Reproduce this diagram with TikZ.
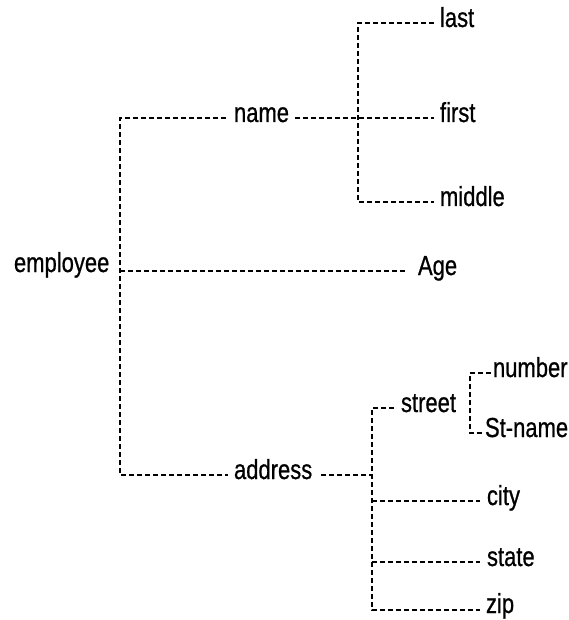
\documentclass[tikz,border=0pt]{standalone}
\usepackage{fontspec}
\setmainfont{Liberation Sans}
\newfontfamily\lblfont{Liberation Sans}[FakeBold=0.8]
\usepackage{graphicx}
\begin{document}
\begin{tikzpicture}[x=1pt,y=-1pt,
  lbl/.style={anchor=base west,inner sep=0pt,outer sep=0pt,font=\lblfont\fontsize{22}{26}\selectfont},
  dl/.style={draw=black,line width=1.6pt,dash pattern=on 5pt off 3pt}]
\useasboundingbox (0,0) rectangle (569,620);
\newcommand{\st}[1]{\scalebox{1}[1.25]{#1}}
% nodes
\node[lbl] (employee) at (14,272) {\st{employee}};
\node[lbl] (name) at (234,122) {\st{name}};
\node[lbl] (last) at (440,27) {\st{last}};
\node[lbl] (first) at (440,122) {\st{first}};
\node[lbl] (middle) at (440,206) {\st{middle}};
\node[lbl] (age) at (418,275) {\st{Age}};
\node[lbl] (address) at (234,479) {\st{address}};
\node[lbl] (street) at (401,412) {\st{street}};
\node[lbl] (number) at (493,377) {\st{number}};
\node[lbl] (stname) at (485,437) {\st{St-name}};
\node[lbl] (city) at (487,505) {\st{city}};
\node[lbl] (state) at (487,566) {\st{state}};
\node[lbl] (zip) at (486,613) {\st{zip}};
% junctions
\coordinate (j1) at (120,271);
\coordinate (j2) at (358,118);
\coordinate (j3) at (372,475);
\coordinate (j4) at (470,403);
% line end points
\coordinate (nameL) at ([shift={(-8pt,4pt)}]name.base west);
\coordinate (nameR) at ([shift={(6pt,4pt)}]name.base east);
\coordinate (lastL) at ([shift={(-6pt,4pt)}]last.base west);
\coordinate (firstL) at ([shift={(-6pt,4pt)}]first.base west);
\coordinate (middleL) at ([shift={(-6pt,4pt)}]middle.base west);
\coordinate (ageL) at ([shift={(-11pt,4pt)}]age.base west);
\coordinate (addressL) at ([shift={(-6pt,4pt)}]address.base west);
\coordinate (addressR) at ([shift={(9pt,4pt)}]address.base east);
\coordinate (streetL) at ([shift={(-7pt,4pt)}]street.base west);
\coordinate (numberL) at ([shift={(-2pt,4pt)}]number.base west);
\coordinate (stnameL) at ([shift={(-2pt,4pt)}]stname.base west);
\coordinate (cityL) at ([shift={(-7pt,4pt)}]city.base west);
\coordinate (stateL) at ([shift={(-7pt,4pt)}]state.base west);
\coordinate (zipL) at ([shift={(-6pt,3pt)}]zip.base west);
% connectors
\draw[dl] (nameL) -| (j1) |- (addressL);
\draw[dl] (j1) -- (ageL);
\draw[dl] (nameR) -- (firstL);
\draw[dl] (lastL) -| (j2) |- (middleL);
\draw[dl] (addressR) -- (j3);
\draw[dl] (streetL) -| (j3) |- (zipL);
\draw[dl] (cityL -| j3) -- (cityL);
\draw[dl] (stateL -| j3) -- (stateL);
\draw[dl] (numberL) -| (j4) |- (stnameL);
\end{tikzpicture}
\end{document}
